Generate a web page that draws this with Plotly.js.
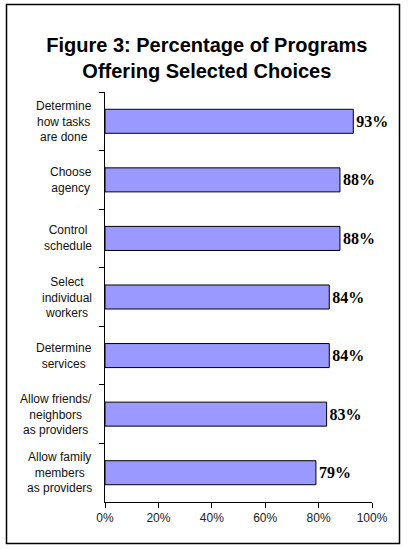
<!DOCTYPE html>
<html>
<head>
<meta charset="utf-8">
<script src="https://cdn.plot.ly/plotly-3.0.1.min.js"></script>
<style>html,body{margin:0;padding:0;background:#fff;}#chart{width:408px;height:549px;}</style>
</head>
<body>
<div id="chart"></div>
<script>
var categories = [
  "Determine<br>how tasks<br>are done",
  "Choose<br>agency",
  "Control<br>schedule",
  "Select<br>individual<br>workers",
  "Determine<br>services",
  "Allow friends/<br>neighbors<br>as providers",
  "Allow family<br>members<br>as providers"
];
var values = [93, 88, 88, 84, 84, 83, 79];
var xTicks = [0, 20, 40, 60, 80, 100];
var xTickLabels = ["0%", "20%", "40%", "60%", "80%", "100%"];

var trace = {
  type: 'bar',
  orientation: 'h',
  y: categories,
  x: values,
  marker: {color: '#9999FF', line: {color: '#000', width: 1}},
  text: values.map(function(v){return v + '%';}),
  textposition: 'outside',
  cliponaxis: false,
  textfont: {family: '"Liberation Serif", serif', size: 16, color: '#000', weight: 'bold'},
  hoverinfo: 'none'
};

var annotations = categories.map(function(c){
  return {xref: 'paper', yref: 'y', x: -0.041, y: c, xanchor: 'right', yanchor: 'middle',
    text: c, showarrow: false, align: 'center',
    font: {family: '"Liberation Sans", Arial, sans-serif', size: 12, color: '#111'}};
});

var layout = {
  width: 408, height: 549,
  margin: {l: 105, r: 36, t: 92, b: 47},
  paper_bgcolor: '#fff', plot_bgcolor: '#fff',
  showlegend: false,
  bargap: 0.59,
  title: {
    text: '<b>Figure 3: Percentage of Programs<br>Offering Selected Choices</b>',
    font: {family: '"Liberation Sans", Arial, sans-serif', size: 20, color: '#000'},
    x: 0.507, xref: 'container', xanchor: 'center',
    y: 1 - 52/549, yref: 'container', yanchor: 'middle'
  },
  xaxis: {
    range: [0, 100], tickvals: xTicks, ticktext: xTickLabels,
    showgrid: false, zeroline: false, showline: true, linecolor: '#000', linewidth: 1,
    ticks: 'outside', ticklen: 5, tickcolor: '#000',
    tickfont: {family: '"Liberation Sans", Arial, sans-serif', size: 12, color: '#222'},
    fixedrange: true
  },
  yaxis: {
    autorange: 'reversed', showticklabels: false,
    showgrid: false, zeroline: false, showline: true, linecolor: '#000', linewidth: 1,
    ticks: 'outside', ticklen: 5, tickcolor: '#000', tickson: 'boundaries',
    fixedrange: true
  },
  annotations: annotations,
  shapes: [{
    type: 'rect', xref: 'paper', yref: 'paper',
    x0: (6.5-105)/267, x1: (399.5-105)/267,
    y0: (502-543.5)/410, y1: (502-4.5)/410,
    line: {color: '#000', width: 1.5}, fillcolor: 'rgba(0,0,0,0)', layer: 'above'
  }]
};

Plotly.newPlot('chart', [trace], layout, {displayModeBar: false, staticPlot: true});
</script>
</body>
</html>
